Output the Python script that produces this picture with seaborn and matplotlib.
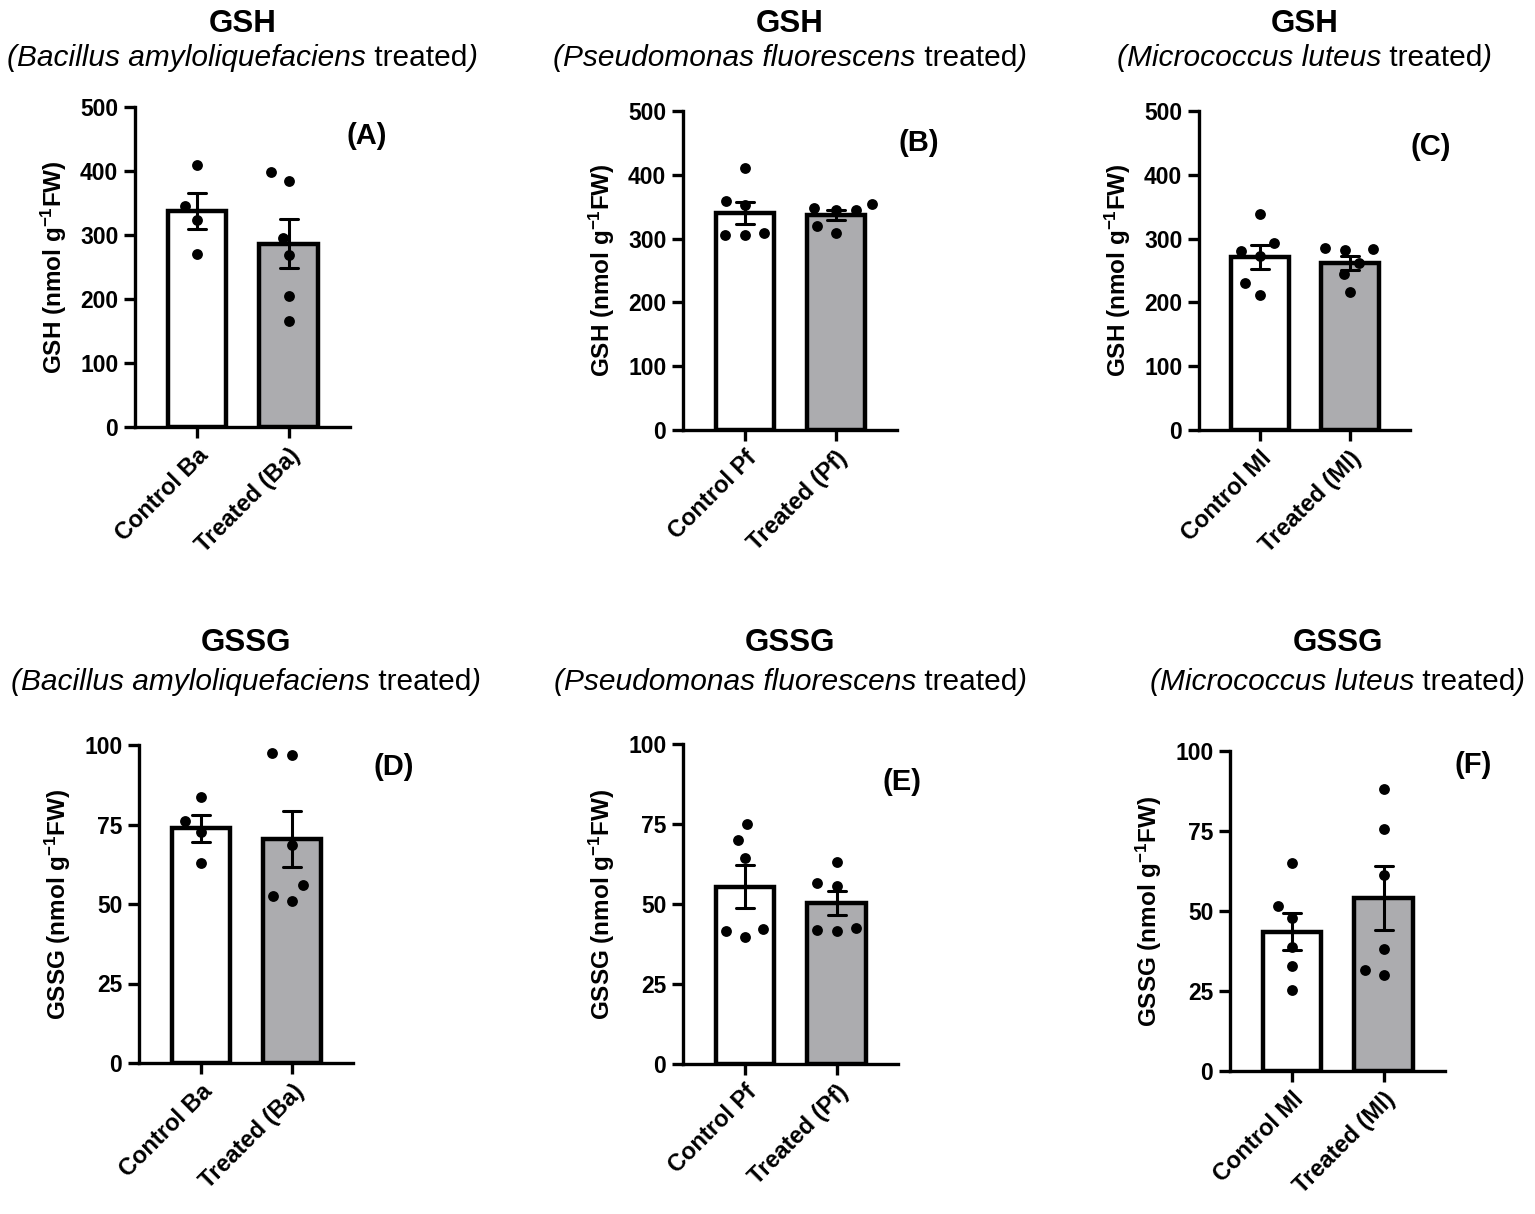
import numpy as np
import pandas as pd
import matplotlib
matplotlib.use("Agg")
import matplotlib.pyplot as plt
from matplotlib.offsetbox import TextArea, HPacker, AnnotationBbox
import seaborn as sns

sns.set_style("ticks")
plt.rcParams["font.family"] = ["Liberation Sans", "DejaVu Sans"]
plt.rcParams["mathtext.fontset"] = "custom"
plt.rcParams["mathtext.rm"] = "Liberation Sans"
plt.rcParams["mathtext.it"] = "Liberation Sans:italic"
plt.rcParams["mathtext.bf"] = "Liberation Sans:bold"
for key in ["text.color", "axes.labelcolor", "xtick.color", "ytick.color", "axes.edgecolor"]:
    plt.rcParams[key] = "black"

# ---------------- data ----------------
groups_ba = ["Control Ba", "Treated (Ba)"]
groups_pf = ["Control Pf", "Treated (Pf)"]
groups_ml = ["Control Ml", "Treated (Ml)"]

gsh_ba_control = [410, 346, 323, 271]
gsh_ba_treated = [385, 399, 296, 268, 205, 166]
gsh_pf_control = [305, 309, 305, 359, 352, 410]
gsh_pf_treated = [345, 355, 345, 348, 309, 319]
gsh_ml_control = [339, 293, 281, 273, 230, 211]
gsh_ml_treated = [285, 282, 283, 262, 244, 216]

gssg_ba_control = [83.6, 76.0, 72.6, 62.9]
gssg_ba_treated = [96.7, 97.5, 68.7, 55.9, 51.0, 52.6]
gssg_pf_control = [75.1, 69.9, 64.4, 39.7, 42.2, 41.5]
gssg_pf_treated = [63.1, 56.6, 55.5, 41.7, 42.5, 42.0]
gssg_ml_control = [64.9, 51.7, 47.8, 38.9, 32.7, 25.2]
gssg_ml_treated = [88.0, 75.6, 61.3, 38.2, 29.9, 31.7]

species = ["Bacillus amyloliquefaciens", "Pseudomonas fluorescens", "Micrococcus luteus"]
panel_letters = ["(A)", "(B)", "(C)", "(D)", "(E)", "(F)"]
gsh_ticks = [0, 100, 200, 300, 400, 500]
gssg_ticks = [0, 25, 50, 75, 100]
bar_colors = ["#FFFFFF", "#ABABAF"]

# ---------------- layout ----------------
W, H = 1535, 1214
fig = plt.figure(figsize=(W / 100, H / 100), dpi=100)

# axes rectangles in pixels: left, top, right, bottom
rects = [
    (135, 107, 350, 427),
    (683, 111, 897, 430),
    (1199, 111, 1410, 430),
    (139, 745, 353, 1063),
    (683, 744, 898, 1064),
    (1230, 751, 1445, 1071),
]
letter_pos = [(1.08, 0.91), (1.10, 0.90), (1.10, 0.887),
              (1.19, 0.93), (1.02, 0.88), (1.13, 0.956)]

panels = [
    ("GSH", species[0], groups_ba, gsh_ba_control, gsh_ba_treated, gsh_ticks),
    ("GSH", species[1], groups_pf, gsh_pf_control, gsh_pf_treated, gsh_ticks),
    ("GSH", species[2], groups_ml, gsh_ml_control, gsh_ml_treated, gsh_ticks),
    ("GSSG", species[0], groups_ba, gssg_ba_control, gssg_ba_treated, gssg_ticks),
    ("GSSG", species[1], groups_pf, gssg_pf_control, gssg_pf_treated, gssg_ticks),
    ("GSSG", species[2], groups_ml, gssg_ml_control, gssg_ml_treated, gssg_ticks),
]

swarm_collections = []
for i, (metric, sp, groups, ctrl, trt, ticks) in enumerate(panels):
    l, t, r, b = rects[i]
    ax = fig.add_axes([l / W, 1 - b / H, (r - l) / W, (b - t) / H])
    df = pd.DataFrame({
        "group": [groups[0]] * len(ctrl) + [groups[1]] * len(trt),
        "value": list(ctrl) + list(trt),
    })
    sns.barplot(data=df, x="group", y="value", order=groups, hue="group",
                hue_order=groups, palette=bar_colors, legend=False,
                errorbar="se", capsize=0.2, width=0.64,
                edgecolor="black", linewidth=3.2,
                err_kws={"color": "black", "linewidth": 2.2}, ax=ax)
    n_before = len(ax.collections)
    sns.swarmplot(data=df, x="group", y="value", order=groups, color="black",
                  size=13.5, ax=ax)
    for coll in ax.collections[n_before:]:
        coll.set_zorder(5)
        swarm_collections.append(coll)

    ax.set_xlim(-0.68, 1.67)
    ax.set_ylim(ticks[0], ticks[-1])
    ax.set_yticks(ticks)
    ax.set_yticklabels([str(v) for v in ticks], fontsize=16.5, fontweight="bold")
    ax.set_xticks([0, 1])
    ax.set_xticklabels(groups, rotation=45, ha="right", rotation_mode="anchor",
                       fontsize=17, fontweight="bold")
    ax.set_xlabel("")
    ax.set_ylabel(metric + r" (nmol g$^{\mathbf{-1}}$FW)", fontsize=17.5,
                  fontweight="bold", labelpad=8)
    sns.despine(ax=ax)
    for s in ["left", "bottom"]:
        ax.spines[s].set_linewidth(2.4)
    ax.tick_params(axis="both", width=2.4, length=8, pad=4, color="black")
    ax.text(letter_pos[i][0], letter_pos[i][1], panel_letters[i],
            transform=ax.transAxes, ha="center", va="center",
            fontsize=21, fontweight="bold")

    cx = (l + r) / 2 / W
    if i < 3:
        y1, y2 = 24, 58
    else:
        y1, y2 = 643, 682
    fig.text(cx, 1 - y1 / H, metric, ha="center", va="center",
             fontsize=22.5, fontweight="bold")
    it_props = dict(fontsize=21.5, style="italic", color="black")
    rm_props = dict(fontsize=21.5, color="black")
    packer = HPacker(children=[TextArea("(" + sp, textprops=it_props),
                               TextArea(" treated", textprops=rm_props),
                               TextArea(")", textprops=it_props)],
                     pad=0, sep=0, align="baseline")
    ab = AnnotationBbox(packer, (cx, 1 - y2 / H), xycoords="figure fraction",
                        frameon=False, box_alignment=(0.5, 0.5), pad=0)
    fig.add_artist(ab)

# compute swarm layout once with wide spacing, then shrink the dots
fig.canvas.draw()
for coll in swarm_collections:
    if "draw" in coll.__dict__:
        del coll.draw
    coll.set_sizes([7.8 ** 2])

fig.savefig("out.png", dpi=100)
